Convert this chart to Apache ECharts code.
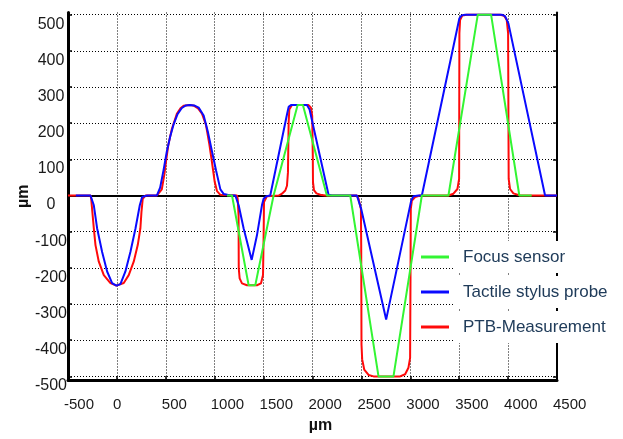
<!DOCTYPE html>
<html>
<head>
<meta charset="utf-8">
<script src="https://cdn.jsdelivr.net/npm/echarts@6/dist/echarts.min.js"></script>
<style>
html,body{margin:0;padding:0;background:#fff;}
#chart{width:623px;height:439px;}
</style>
</head>
<body>
<div id="chart"></div>
<script>
// ---- data (µm) ----
const xTicks = [-500, 0, 500, 1000, 1500, 2000, 2500, 3000, 3500, 4000, 4500];
const yTicks = [-500, -400, -300, -200, -100, 0, 100, 200, 300, 400, 500];
const seriesNames = ['Focus sensor', 'Tactile stylus probe', 'PTB-Measurement'];

const focusSensor = [
  [1126, 0], [1177, 0], [1347, -248], [1415, -248], [1602, 0], [1620, 0],
  [1848, 250], [1902, 250], [2147, 0], [2386, 0], [2675, -500], [2828, -500],
  [3118, 0], [3390, 0], [3690, 500], [3826, 500], [4115, 0], [4241, 0]
];

const tactileProbe = [
  [-420, 0], [-270, 0], [-236, -27], [-202, -91], [-151, -156], [-100, -210],
  [-49, -242], [-5, -249], [36, -245], [87, -210], [138, -156], [190, -91],
  [234, -27], [258, -4], [309, 0], [408, 0], [442, 22], [476, 69], [510, 121],
  [545, 163], [580, 197], [620, 225], [664, 242], [705, 249], [745, 250],
  [790, 249], [836, 243], [887, 221], [932, 174], [973, 121], [1014, 69],
  [1058, 17], [1093, 4], [1161, 0],
  [1211, 0], [1245, -27], [1296, -91], [1378, -178], [1432, -110], [1483, -27],
  [1500, -9], [1528, -2], [1568, 0], [1739, 224], [1756, 245], [1780, 250],
  [1943, 250], [1970, 238], [2164, 2], [2198, 0], [2454, 0], [2471, -4],
  [2498, -37], [2753, -343], [3009, -14], [3033, -2], [3084, 0], [3118, 0],
  [3502, 490], [3526, 498], [3560, 500], [3935, 500], [3969, 496], [4003, 476],
  [4378, 0], [4500, 0]
];

const ptbMeasurement = [
  [-500, 0], [-270, 0], [-263, -9], [-236, -91], [-219, -137], [-185, -183],
  [-134, -220], [-66, -242], [-5, -249], [70, -242], [121, -220], [172, -183],
  [213, -137], [240, -91], [251, -46], [264, -9], [292, 0], [408, 0], [459, 17],
  [486, 59], [500, 90], [527, 142], [562, 184], [613, 226], [650, 241], [682, 248],
  [745, 250], [790, 248], [830, 241], [870, 226], [911, 195], [945, 142], [973, 90],
  [1000, 38], [1024, 12], [1058, 2], [1228, 0], [1235, -9], [1244, -55],
  [1246, -201], [1255, -229], [1279, -243], [1330, -248], [1432, -248],
  [1473, -243], [1494, -220], [1500, -119], [1504, -18], [1534, -2], [1654, 0],
  [1688, 5], [1722, 14], [1739, 27], [1749, 64], [1756, 201], [1763, 238],
  [1790, 250], [1960, 250], [1984, 243], [1997, 220], [2003, 110], [2005, 37],
  [2015, 15], [2040, 6], [2080, 2], [2130, 0], [2454, 0], [2471, -9],
  [2495, -37], [2498, -137], [2501, -412], [2508, -453], [2529, -481],
  [2573, -496], [2624, -500], [2896, -500], [2947, -494], [2981, -476],
  [2998, -449], [3002, -229], [3005, -37], [3016, -14], [3050, -4], [3101, 0],
  [3390, 0], [3441, 5], [3482, 18], [3499, 46], [3502, 449], [3509, 485],
  [3533, 498], [3577, 500], [3918, 500], [3959, 497], [3986, 485], [4000, 449],
  [4006, 46], [4020, 18], [4054, 6], [4122, 0], [4500, 0]
];

const colors = { focus: '#33f533', probe: '#0a0aff', ptb: '#ff0a0a' };

const chart = echarts.init(document.getElementById('chart'), null, { renderer: 'canvas' });

const gridLine = { show: true, lineStyle: { color: '#000', type: [1, 2], width: 1 } };
const labelFont = 'Liberation Sans, Arial, sans-serif';
const plainNumber = function (v) { return String(v); };

const option = {
  backgroundColor: '#fff',
  animation: false,
  grid: { left: 68, right: 66, top: 12.5, bottom: 56.3, containLabel: false },
  legend: {
    orient: 'vertical',
    left: 421,
    top: 241,
    padding: 0,
    itemGap: 3,
    itemWidth: 28,
    itemHeight: 3,
    icon: 'rect',
    z: 10,
    data: seriesNames,
    textStyle: {
      fontFamily: labelFont,
      fontSize: 17,
      color: '#203c5a',
      lineHeight: 20,
      backgroundColor: '#fff',
      padding: [6, 12, 6, 9]
    }
  },
  xAxis: [
    {
      type: 'value', min: xTicks[0], max: xTicks[xTicks.length - 1], interval: 500,
      position: 'bottom',
      axisLine: { show: true, onZero: false, lineStyle: { color: '#000', width: 3 } },
      axisTick: { show: true, inside: true, length: 4, lineStyle: { color: '#000', width: 1.5 } },
      axisLabel: {
        formatter: plainNumber,
        fontFamily: labelFont, fontSize: 15, color: '#1a1a1a', margin: 17,
        align: 'left', padding: [0, 0, 0, -4]
      },
      splitLine: gridLine,
      name: 'µm', nameLocation: 'middle', nameGap: 38, nameMoveOverlap: false,
      nameTextStyle: { fontFamily: labelFont, fontWeight: 'bold', fontSize: 16, color: '#111', padding: [0, 0, 0, 16] }
    },
    {
      type: 'value', min: xTicks[0], max: xTicks[xTicks.length - 1],
      position: 'top',
      axisLine: { show: true, lineStyle: { color: '#000', width: 2 } },
      axisTick: { show: false }, axisLabel: { show: false }, splitLine: { show: false }
    }
  ],
  yAxis: [
    {
      type: 'value', min: -510, max: 506,
      position: 'left',
      axisLine: { show: true, onZero: false, lineStyle: { color: '#000', width: 3 } },
      axisTick: { show: true, inside: true, length: 4, customValues: yTicks, lineStyle: { color: '#000', width: 1.5 } },
      axisLabel: {
        customValues: yTicks,
        formatter: plainNumber,
        fontFamily: labelFont, fontSize: 16, color: '#1a1a1a',
        align: 'center', margin: 17, verticalAlign: 'top', lineHeight: 19
      },
      splitLine: gridLine,
      name: 'µm', nameLocation: 'middle', nameGap: 36, nameRotate: 90, nameMoveOverlap: false,
      nameTextStyle: { fontFamily: labelFont, fontWeight: 'bold', fontSize: 16, color: '#111' }
    },
    {
      type: 'value', min: -510, max: 506,
      position: 'right',
      axisLine: { show: true, onZero: false, lineStyle: { color: '#000', width: 2 } },
      axisTick: { show: true, inside: true, length: 4, customValues: yTicks, lineStyle: { color: '#000', width: 1.5 } },
      axisLabel: { show: false }, splitLine: { show: false }
    }
  ],
  series: [
    {
      name: seriesNames[2], type: 'line', data: ptbMeasurement, xAxisIndex: 0, yAxisIndex: 0,
      showSymbol: false, symbol: 'none', z: 2,
      lineStyle: { color: colors.ptb, width: 2 }, itemStyle: { color: colors.ptb }
    },
    {
      name: seriesNames[1], type: 'line', data: tactileProbe, xAxisIndex: 0, yAxisIndex: 0,
      showSymbol: false, symbol: 'none', z: 3,
      lineStyle: { color: colors.probe, width: 2 }, itemStyle: { color: colors.probe }
    },
    {
      name: seriesNames[0], type: 'line', data: focusSensor, xAxisIndex: 0, yAxisIndex: 0,
      showSymbol: false, symbol: 'none', z: 4,
      lineStyle: { color: colors.focus, width: 2 }, itemStyle: { color: colors.focus }
    }
  ]
};

chart.setOption(option);
</script>
</body>
</html>
